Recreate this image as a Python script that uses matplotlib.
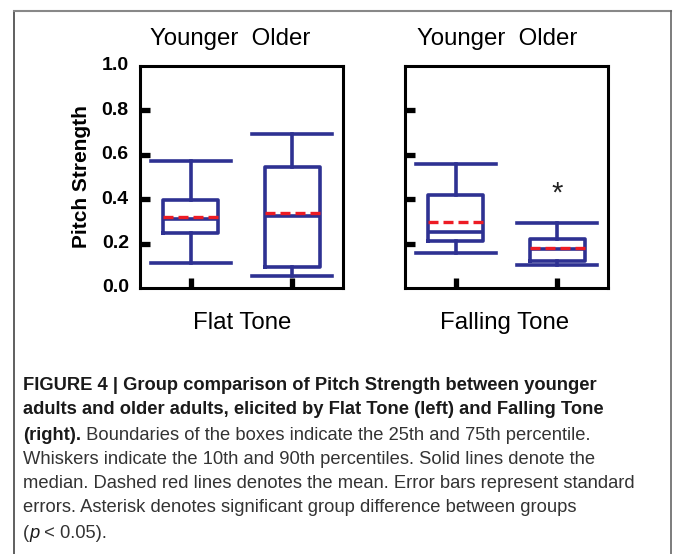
import matplotlib
matplotlib.use("Agg")
import matplotlib.pyplot as plt
from matplotlib.lines import Line2D

# ---- data ----
groups = ["Younger", "Older"]
panels = ["Flat Tone", "Falling Tone"]
# per panel: [Younger, Older]
p10 = [[0.114, 0.053], [0.156, 0.102]]
q1 = [[0.249, 0.095], [0.213, 0.120]]
median = [[0.309, 0.324], [0.254, 0.176]]
mean = [[0.321, 0.339], [0.297, 0.180]]
q3 = [[0.396, 0.545], [0.420, 0.222]]
p90 = [[0.572, 0.692], [0.557, 0.294]]
sig_marker = [None, (2, 0.427)]
yticks = [0.0, 0.2, 0.4, 0.6, 0.8, 1.0]
ylabels = ["0.0", "0.2", "0.4", "0.6", "0.8", "1.0"]

NAVY = "#2E3192"
RED = "#ED1C24"
FONT = "Liberation Sans"

plt.rcParams["font.family"] = [FONT, "DejaVu Sans"]

W, H = 673, 554
fig = plt.figure(figsize=(W / 100, H / 100), dpi=100)

def fx(px):
    return px / W

def fy(py):
    return 1 - py / H

axes_px = [(140, 66, 343, 288), (405, 66, 608, 288)]
title_px = [(230, 39), (497, 39)]
xlabel_px = [(242, 323), (505, 323)]

for i, (l, t, r, b) in enumerate(axes_px):
    ax = fig.add_axes([fx(l), fy(b), fx(r - l), (b - t) / H])
    stats = []
    for j, g in enumerate(groups):
        stats.append(dict(label=g, whislo=p10[i][j], q1=q1[i][j], med=median[i][j],
                          q3=q3[i][j], whishi=p90[i][j], mean=mean[i][j], fliers=[]))
    ax.bxp(stats, positions=[1, 2], widths=0.54, capwidths=0.79,
           showmeans=True, meanline=True, showfliers=False,
           boxprops=dict(color=NAVY, linewidth=2.6),
           whiskerprops=dict(color=NAVY, linewidth=2.6),
           capprops=dict(color=NAVY, linewidth=2.6),
           medianprops=dict(color=NAVY, linewidth=2.6),
           meanprops=dict(color=RED, linewidth=2.4, linestyle=(0, (3, 1.5))))
    ax.set_xlim(0.5, 2.5)
    ax.set_ylim(0, 1.0)
    for s in ax.spines.values():
        s.set_linewidth(2.2)
        s.set_color("black")
    ax.set_xticks([1, 2])
    ax.set_xticklabels([])
    ax.set_yticks([0.2, 0.4, 0.6, 0.8])
    ax.tick_params(axis="both", direction="in", length=7, width=3.8, color="black")
    ax.tick_params(axis="y", labelleft=False)
    if i == 0:
        for v, lab in zip(yticks, ylabels):
            ax.text(-0.055, v, lab, transform=ax.get_yaxis_transform(), ha="right",
                    va="center", fontsize=14, fontweight="bold")
        ax.text(-0.29, 0.5, "Pitch Strength", transform=ax.transAxes, rotation=90,
                ha="center", va="center", fontsize=15, fontweight="bold")
    if sig_marker[i] is not None:
        ax.text(sig_marker[i][0], sig_marker[i][1], "*", ha="center", va="center",
                fontsize=21, color="#222222")
    tx, ty = title_px[i]
    fig.text(fx(tx), fy(ty), "Younger  Older", ha="center", va="center", fontsize=17.3)
    lx, ly = xlabel_px[i]
    fig.text(fx(lx), fy(ly), panels[i], ha="center", va="center", fontsize=17.3)

# outer frame
fig.add_artist(Line2D([fx(14), fx(14)], [fy(11), 0], color="#444444", lw=1.2))
fig.add_artist(Line2D([fx(14), fx(671)], [fy(11), fy(11)], color="#888888", lw=1.5))
fig.add_artist(Line2D([fx(671), fx(671)], [fy(11), 0], color="#666666", lw=1.2))

# caption
cap_font = ["Liberation Sans", "DejaVu Sans"]
cap_size = 13.2
lines = [
    [("FIGURE 4 | Group comparison of Pitch Strength between younger", "bold")],
    [("adults and older adults, elicited by Flat Tone (left) and Falling Tone", "bold")],
    [("(right).", "bold"), (" Boundaries of the boxes indicate the 25th and 75th percentile.", "normal")],
    [("Whiskers indicate the 10th and 90th percentiles. Solid lines denote the", "normal")],
    [("median. Dashed red lines denotes the mean. Error bars represent standard", "normal")],
    [("errors. Asterisk denotes significant group difference between groups", "normal")],
    [("(", "normal"), ("p", "italic"), (" < 0.05).", "normal")],
]
line_y = [385, 410, 435, 459, 484, 508, 533]
renderer = fig.canvas.get_renderer()
for segs, y in zip(lines, line_y):
    x = 23
    for txt, style in segs:
        kw = dict(fontsize=cap_size, family=cap_font, va="center", ha="left", color="#1a1a1a")
        if style == "bold":
            kw["fontweight"] = "bold"
        elif style == "italic":
            kw["fontstyle"] = "italic"
        else:
            kw["color"] = "#333333"
        t = fig.text(fx(x), fy(y), txt, **kw)
        bb = t.get_window_extent(renderer=renderer)
        x = bb.x1 + (3 if txt.endswith(" ") else 0)

fig.savefig("out.png", dpi=100)
